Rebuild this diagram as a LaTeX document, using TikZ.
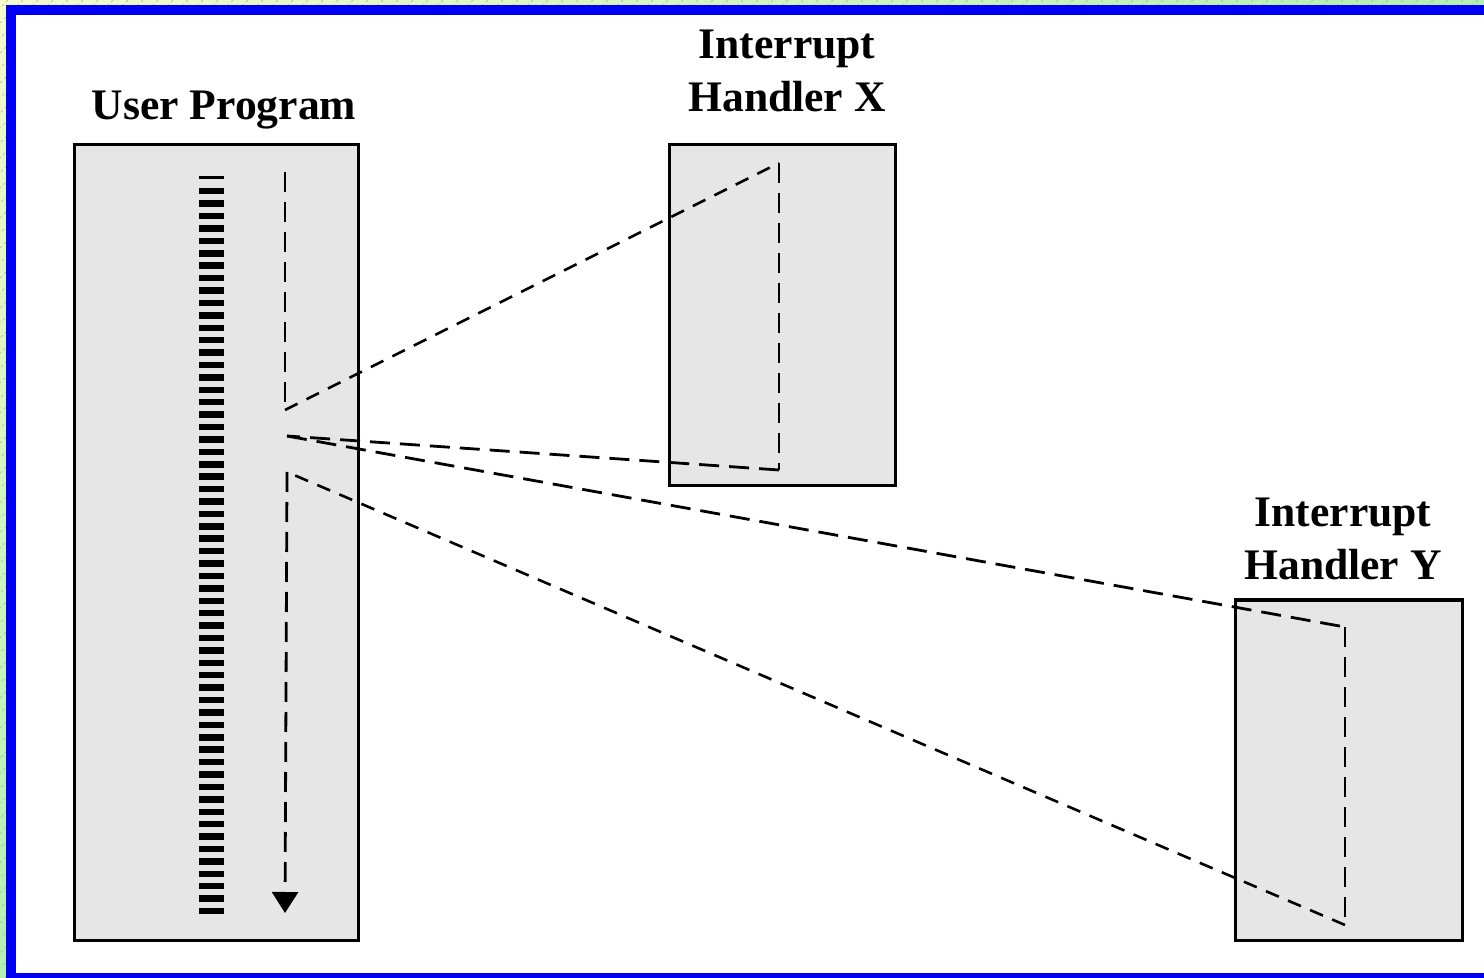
\documentclass[tikz,border=0pt]{standalone}
\usepackage{fontspec}
\setmainfont{Liberation Serif}
\usetikzlibrary{arrows.meta,shadings}
\definecolor{bgyel}{HTML}{F4FACC}
\definecolor{bggrn}{HTML}{B2F0B2}
\definecolor{frameblue}{HTML}{0000F5}
\definecolor{boxgray}{HTML}{E6E6E6}
\tikzset{
  prog/.style={draw=black, line width=1.5pt, fill=boxgray, inner sep=0pt},
  title/.style={font=\bfseries\fontsize{21.8}{26.5}\selectfont, align=center, inner sep=0pt, anchor=base},
  flow/.style={line width=1.4pt, dash pattern=on 10pt off 5pt},
  jump/.style={line width=1.3pt, dash pattern=on 7pt off 5pt},
  stripe/.style={fill=black}
}
\begin{document}
\begin{tikzpicture}[x=0.5pt,y=-0.5pt]
\useasboundingbox (0,0) rectangle (1484,978);
\clip (0,0) rectangle (1484,978);
% outer hatched background
\shade[upper left=bgyel, upper right=bggrn, lower left=bggrn, lower right=bggrn] (0,0) rectangle (1484,978);
\foreach \i in {-1000,-985,...,1490} \draw[gray!60, line width=0.3pt, dash pattern=on 1.5pt off 1.5pt] (\i,978) -- ++(978,-978);
% blue frame
\draw[frameblue, line width=5pt, fill=white] (11,10) rectangle (1495,978);
% titles (base anchor = baseline of last line)
\node[title] (tup) at (224,120) {User Program};
\node[title] (tx) at (787,112) {Interrupt\\Handler X};
\node[title] (ty) at (1343,580) {Interrupt\\Handler Y};
% boxes
\node[prog, minimum width=142pt, minimum height=397.5pt] (up) at (216,542.5) {};
\node[prog, minimum width=113pt, minimum height=170.5pt] (hx) at (782,315.5) {};
\node[prog, minimum width=113.5pt, minimum height=170pt] (hy) at (1348.5,770) {};
% instruction stripes
\fill[stripe] (199,176) rectangle (224,179.5);
\foreach \k in {0,...,58} \fill[stripe] (199,{188+\k*12.41}) rectangle (224,{194.5+\k*12.41});
% flow coordinates
\coordinate (s0) at (285,172);
\coordinate (i1) at (285,410);
\coordinate (x1) at (779,163);
\coordinate (x2) at (779,470);
\coordinate (r1) at (287,436);
\coordinate (y1) at (1345,627);
\coordinate (y2) at (1345,925);
\coordinate (r2) at (287,472);
\coordinate (e0) at (285,913);
% flow
\draw[flow] (s0) -- (i1);
\draw[jump] (i1) -- (x1);
\draw[flow] (x1) -- (x2);
\draw[flow] (x2) -- (r1);
\draw[flow] (r1) -- (y1);
\draw[flow] (y1) -- (y2);
\draw[jump] (y2) -- (r2);
\draw[flow, -{Triangle[width=13pt,length=10.5pt]}] (r2) -- (e0);
\end{tikzpicture}
\end{document}
